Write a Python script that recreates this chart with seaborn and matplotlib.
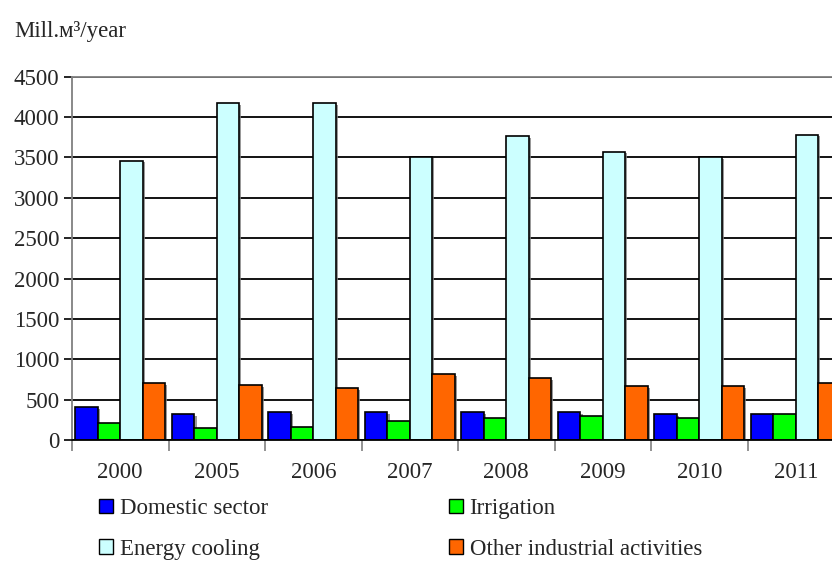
import numpy as np
import pandas as pd
import matplotlib
matplotlib.use('Agg')
import matplotlib.pyplot as plt
import matplotlib.patheffects as pe
from matplotlib.patches import Patch
import seaborn as sns

years = ['2000', '2005', '2006', '2007', '2008', '2009', '2010', '2011']
sectors = ['Domestic sector', 'Irrigation', 'Energy cooling', 'Other industrial activities']
domestic = [410, 320, 345, 345, 345, 345, 320, 320]
irrigation = [205, 145, 165, 235, 270, 295, 270, 320]
energy = [3460, 4170, 4170, 3510, 3760, 3570, 3505, 3780]
other = [705, 680, 640, 815, 770, 665, 665, 705]
colors = ['#0000FF', '#00FF00', '#CCFFFF', '#FF6600']

df = pd.DataFrame({
    'year': years * 4,
    'sector': np.repeat(sectors, len(years)),
    'value': domestic + irrigation + energy + other,
})

sns.set_style('white')
plt.rcParams['font.family'] = ['Liberation Serif', 'DejaVu Serif']
fs = 16.5

fig = plt.figure(figsize=(8.32, 5.61), dpi=100)
# plot area runs past the right edge, like the cropped original
ax = fig.add_axes([72 / 832, 1 - 440 / 561, 772 / 832, 363.3 / 561])

sns.barplot(data=df, x='year', y='value', hue='sector', hue_order=sectors,
            palette=colors, edgecolor='black', linewidth=1.2, width=0.93,
            gap=0, saturation=1, legend=False, ax=ax)

shadow = [pe.SimplePatchShadow(offset=(1.6, -1.2), shadow_rgbFace='#808080', alpha=0.8), pe.Normal()]
for p in ax.patches:
    p.set_path_effects(shadow)
    p.set_zorder(2)

ax.set_ylim(0, 4500)
ax.set_xlim(-0.5, 7.5)
ax.set_yticks(np.arange(0, 4501, 500))
ax.yaxis.grid(True, color='black', linewidth=1.3)
ax.set_axisbelow(True)

ax.set_xticks(np.arange(-0.5, 8, 1))
ax.set_xticklabels([])
ax.set_xticks(np.arange(8), minor=True)
ax.set_xticklabels(years, minor=True)
ax.tick_params(axis='x', which='major', length=8, width=1.2, color='#808080', direction='out', bottom=True)
ax.tick_params(axis='x', which='minor', length=0, pad=16, labelsize=fs)
ax.tick_params(axis='y', length=6, width=1.2, color='black', direction='out', left=True, labelsize=fs, pad=3)

ax.set_xlabel('')
ax.set_ylabel('')
for s in ['left', 'top']:
    ax.spines[s].set_color('#808080')
    ax.spines[s].set_linewidth(1.3)
ax.spines['right'].set_visible(False)
ax.spines['bottom'].set_color('black')
ax.spines['bottom'].set_linewidth(1.3)

fig.text(14 / 832, 1 - 31 / 561, 'Mill.м³/year', fontsize=fs, ha='left', va='center')

handles = [Patch(facecolor=c, edgecolor='black', linewidth=1.0) for c in colors]
order = [0, 2, 1, 3]
fig.legend([handles[i] for i in order], [sectors[i] for i in order],
           ncol=2, loc='upper left', bbox_to_anchor=(90 / 832, 1 - 489 / 561),
           frameon=False, fontsize=fs, handlelength=0.6, handleheight=0.6,
           handletextpad=0.3, labelspacing=0.85, columnspacing=7.9, borderaxespad=0)

fig.savefig('out.png', dpi=100)
